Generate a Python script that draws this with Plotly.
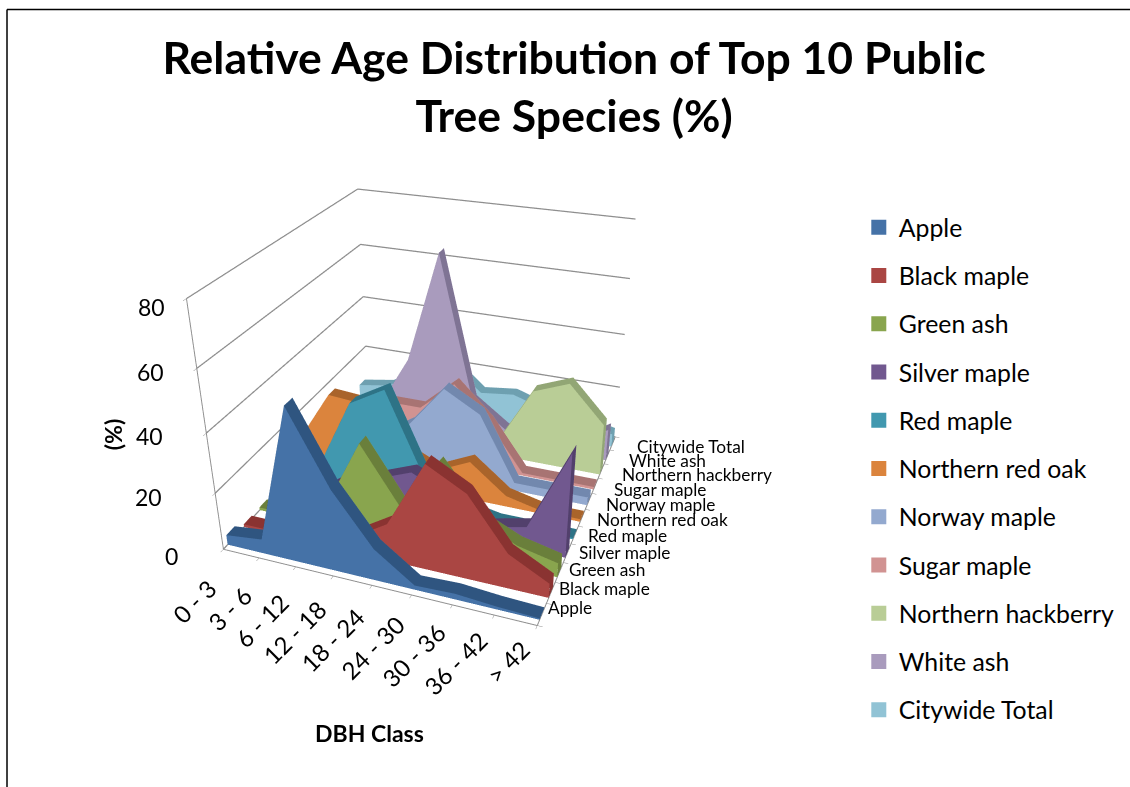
import plotly.graph_objects as go

categories = ["0 - 3", "3 - 6", "6 - 12", "12 - 18", "18 - 24", "24 - 30", "30 - 36", "36 - 42", "> 42"]
species = ["Apple", "Black maple", "Green ash", "Silver maple", "Red maple", "Northern red oak",
           "Norway maple", "Sugar maple", "Northern hackberry", "White ash", "Citywide Total"]
apple = [3.5, 5, 52, 28, 11, 1.5, 2, 1, 0.5]
black_maple = [1, 1, 3, 5, 13, 36, 29, 12, 5]
green_ash = [1, 1, 8, 32, 13, 30, 14, 8, 5]
silver_maple = [1, 1, 10, 14, 19, 13, 5, 8, 36]
red_maple = [1, 8, 33, 40, 12, 3, 0.5, 0.5, 0.5]
northern_red_oak = [10, 29, 28, 14, 8, 14, 4, 1, 1]
norway_maple = [2, 4, 10, 18, 33, 26, 3, 3, 3]
sugar_maple = [13, 16, 19, 19, 30, 18, 1, 1, 1]
northern_hackberry = [1, 1, 1, 1, 1, 5, 27, 32, 19]
white_ash = [1, 5, 26, 67, 14, 5, 3, 4, 12]
citywide_total = [7, 9, 16, 23, 12.5, 14, 10, 7.5, 5]
values = [apple, black_maple, green_ash, silver_maple, red_maple, northern_red_oak,
          norway_maple, sugar_maple, northern_hackberry, white_ash, citywide_total]
colors = ["#4572A7", "#AA4643", "#89A54E", "#71588F", "#4198AF", "#DB843D",
          "#93A9CF", "#D19392", "#B9CD96", "#A99BBD", "#91C3D5"]
dark = ["#2F5580", "#8A3331", "#6A7F3B", "#52406C", "#2E7386", "#A9642B",
        "#7288AE", "#A87473", "#92A675", "#7F7494", "#6EA0B0"]
z_ticks = [0, 20, 40, 60, 80]
FONT = "Lato, Carlito, Calibri, sans-serif"
GRID = "#8E8E8E"
W = 0.25


def ribbon(vals, k, name, col, dk):
    n = len(vals)
    xs, ys, zs, ii, jj, kk, fc = [], [], [], [], [], [], []
    y0, y1 = k + 0.5 - W, k + 0.5 + W
    for i, v in enumerate(vals):
        xs += [i, i, i, i]
        ys += [y0, y0, y1, y1]
        zs += [0, v, v, 0]

    def quad(a, b, c, d, color):
        ii.extend([a, a]); jj.extend([b, c]); kk.extend([c, d]); fc.extend([color, color])

    for i in range(n - 1):
        p, q = 4 * i, 4 * (i + 1)
        quad(p, p + 1, q + 1, q, col)
        quad(p + 1, p + 2, q + 2, q + 1, dk)
        quad(p + 3, p + 2, q + 2, q + 3, col)
    quad(0, 1, 2, 3, dk)
    last = 4 * (n - 1)
    quad(last, last + 1, last + 2, last + 3, dk)
    return go.Mesh3d(x=xs, y=ys, z=zs, i=ii, j=jj, k=kk, facecolor=fc, flatshading=True,
                     lighting=dict(ambient=1, diffuse=0, specular=0, fresnel=0),
                     name=name, showlegend=False, legendgroup=name, hoverinfo="name", showscale=False)


n_x, n_y = len(categories) - 1, len(species)
fig = go.Figure([ribbon(v, k, s, c, d) for k, (v, s, c, d) in enumerate(zip(values, species, colors, dark))])
for s, c in zip(species, colors):
    fig.add_trace(go.Scatter3d(x=[None], y=[None], z=[None], mode="markers", name=s, legendgroup=s, showlegend=True,
                               marker=dict(symbol="square", size=15, color=c), hoverinfo="skip"))
gx, gy, gz = [], [], []
for t in z_ticks:
    gx += [0, 0, n_x, None]; gy += [0, n_y, n_y, None]; gz += [t, t, t, None]
fig.add_trace(go.Scatter3d(x=gx, y=gy, z=gz, mode="lines", line=dict(color=GRID, width=2.5),
                           showlegend=False, hoverinfo="skip", connectgaps=False))

ann = []
for i, c in enumerate(categories):
    ann.append(dict(x=i, y=0, z=0, text=c, showarrow=False, textangle=-45, xanchor="right", yanchor="top",
                    xshift=1, yshift=-22 + 2 * i, font=dict(family=FONT, size=24, color="black")))
for k, s in enumerate(species):
    bump = 4 * (1 - ((k - 5) / 5) ** 2)
    ann.append(dict(x=n_x, y=k + 0.5, z=0, text=s, showarrow=False, xanchor="left", yanchor="middle",
                    xshift=4 + 1.8 * k, yshift=7 - k - bump, font=dict(family=FONT, size=17.3, color="black")))
z_label_dx = [-43, -51, -41, -31, -20]
z_label_dy = [-7, -4, -3, -4, -8]
for t, dx, dy in zip(z_ticks, z_label_dx, z_label_dy):
    ann.append(dict(x=0, y=0, z=t, text=str(t), showarrow=False, xanchor="right", yanchor="middle",
                    xshift=dx, yshift=dy, font=dict(family=FONT, size=23, color="black")))

axis = dict(showbackground=False, showgrid=False, zeroline=False, showspikes=False, showticklabels=False,
            title=dict(text=""), showline=True, linecolor=GRID, linewidth=2,
            ticks="outside", ticklen=4, tickcolor=GRID)
fig.update_layout(
    width=1130, height=787, margin=dict(l=0, r=0, t=0, b=0), paper_bgcolor="white",
    title=dict(text="<b>Relative Age Distribution of Top 10 Public<br>Tree Species (%)</b>",
               x=0.508, xanchor="center", y=0.906, yanchor="top", font=dict(family=FONT, size=44.5, color="black")),
    legend=dict(x=0.76, y=0.74, xanchor="left", yanchor="top", tracegroupgap=13, traceorder="grouped",
                font=dict(family=FONT, size=24.8, color="black"), itemwidth=30),
    scene=dict(
        domain=dict(x=[0, 0.81], y=[0, 1]),
        aspectmode="manual", aspectratio=dict(x=1, y=1.069, z=0.833),
        camera=dict(eye=dict(x=0.970, y=-2.490, z=1.403), center=dict(x=-0.014, y=0.242, z=-0.179), up=dict(x=0, y=0, z=1)),
        xaxis=dict(axis, range=[0, n_x], tickvals=list(range(n_x + 1))),
        yaxis=dict(axis, range=[0, n_y], tickvals=list(range(n_y + 1))),
        zaxis=dict(axis, range=[0, 80], tickvals=z_ticks),
        annotations=ann,
    ),
    annotations=[
        dict(text="<b>DBH Class</b>", x=0.327, y=0.0686, xref="paper", yref="paper", showarrow=False,
             xanchor="center", yanchor="middle", font=dict(family=FONT, size=23, color="black")),
        dict(text="<b>(%)</b>", x=0.1, y=0.447, xref="paper", yref="paper", showarrow=False, textangle=-90,
             xanchor="center", yanchor="middle", font=dict(family=FONT, size=23, color="black")),
    ],
    shapes=[
        dict(type="line", xref="paper", yref="paper", x0=0.0062, x1=0.0062, y0=0, y1=0.988, line=dict(color="black", width=1.5)),
        dict(type="line", xref="paper", yref="paper", x0=0.0062, x1=1, y0=0.988, y1=0.988, line=dict(color="black", width=1.5)),
    ],
)
fig.write_html("out.html", post_script="document.body.style.margin='0';", config={"displayModeBar": False})
